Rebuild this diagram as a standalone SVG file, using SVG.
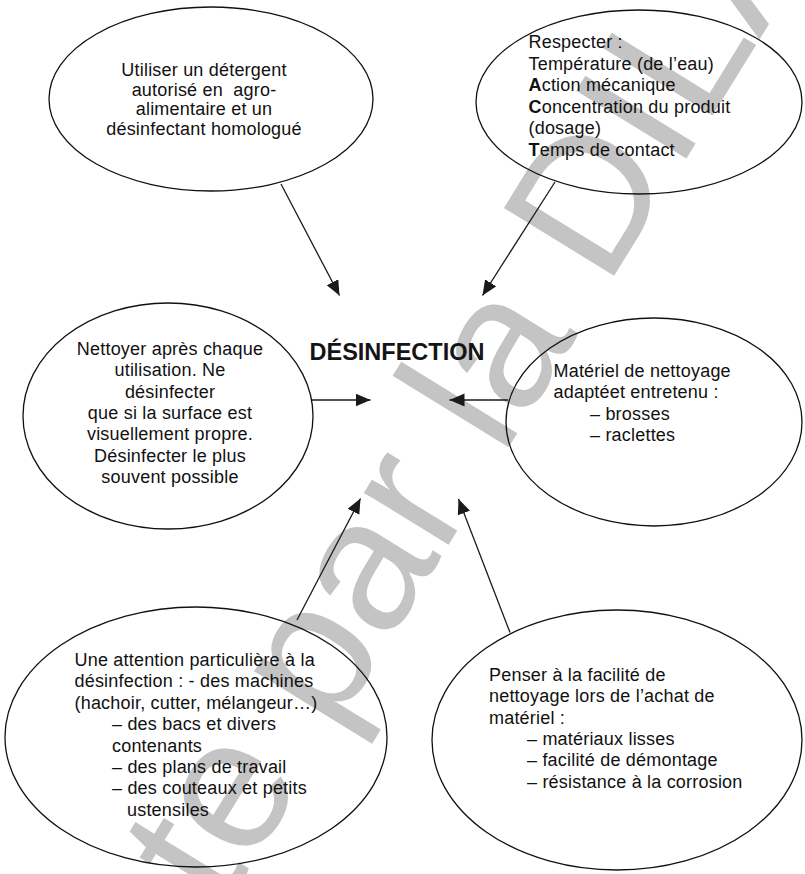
<svg xmlns="http://www.w3.org/2000/svg" width="805" height="874" viewBox="0 0 805 874">
<style>
.bg{fill:#ffffff}
.wm{font-family:"Liberation Sans",Arial,sans-serif;font-size:188px;fill:#c4c4c4}
.node ellipse{fill:none;stroke:#111;stroke-width:1.3}
.t{font-family:"Liberation Sans",Arial,sans-serif;font-size:18px;letter-spacing:0.2px;fill:#111}
.c{text-anchor:middle}
.title{font-family:"Liberation Sans",Arial,sans-serif;font-size:23.5px;font-weight:bold;fill:#141414;text-anchor:middle}
.conn line{stroke:#1a1a1a;stroke-width:1.3;marker-end:url(#ah)}
</style>
<defs>
<marker id="ah" markerUnits="userSpaceOnUse" markerWidth="16" markerHeight="14" refX="15" refY="6.5" orient="auto">
<path d="M0,0 L15,6.5 L0,13 z" fill="#1a1a1a"/>
</marker>
</defs>
<rect class="bg" x="0" y="0" width="805" height="874"/>
<g id="watermark">
<text class="wm" transform="translate(222.7,912) rotate(-58.4)" x="0" y="0">te par la DILA</text>
</g>
<g id="connectors" class="conn">
<line x1="281" y1="184" x2="339.5" y2="295.5"/>
<line x1="555" y1="182" x2="482.5" y2="295.5"/>
<line x1="312" y1="400" x2="370.5" y2="400"/>
<line x1="508" y1="400" x2="449.5" y2="400"/>
<line x1="297" y1="620" x2="360.5" y2="498.5"/>
<line x1="510" y1="632.5" x2="458.5" y2="499"/>
</g>
<g id="title">
<text class="title" x="397" y="360">DÉSINFECTION</text>
</g>
<g id="n1" class="node">
<ellipse cx="211" cy="99" rx="162" ry="92"/>
<text class="t c" x="204" y="76">Utiliser un détergent</text>
<text class="t c" x="204" y="95.5" xml:space="preserve">autorisé en  agro-</text>
<text class="t c" x="204" y="115">alimentaire et un</text>
<text class="t c" x="204" y="134.5">désinfectant homologué</text>
</g>
<g id="n2" class="node">
<ellipse cx="639" cy="102" rx="163" ry="92"/>
<text class="t" x="528.5" y="48">Respecter :</text>
<text class="t" x="528.5" y="70">Température (de l’eau)</text>
<text class="t" x="528.5" y="91"><tspan font-weight="bold">A</tspan>ction mécanique</text>
<text class="t" x="528.5" y="113"><tspan font-weight="bold">C</tspan>oncentration du produit</text>
<text class="t" x="528.5" y="134">(dosage)</text>
<text class="t" x="528.5" y="156"><tspan font-weight="bold">T</tspan>emps de contact</text>
</g>
<g id="n3" class="node">
<ellipse cx="168" cy="416" rx="145" ry="113"/>
<text class="t c" x="170" y="355">Nettoyer après chaque</text>
<text class="t c" x="170" y="376.3">utilisation. Ne</text>
<text class="t c" x="170" y="397.6">désinfecter</text>
<text class="t c" x="170" y="418.9">que si la surface est</text>
<text class="t c" x="170" y="440.2">visuellement propre.</text>
<text class="t c" x="170" y="461.5">Désinfecter le plus</text>
<text class="t c" x="170" y="482.8">souvent possible</text>
</g>
<g id="n4" class="node">
<ellipse cx="654" cy="422" rx="148" ry="104"/>
<text class="t" x="553.5" y="377">Matériel de nettoyage</text>
<text class="t" x="553.5" y="398">adaptéet entretenu :</text>
<text class="t" x="590" y="419.5">– brosses</text>
<text class="t" x="590" y="440.6">– raclettes</text>
</g>
<g id="n5" class="node">
<ellipse cx="196" cy="737" rx="191" ry="130"/>
<text class="t" x="74.5" y="666">Une attention particulière à la</text>
<text class="t" x="74.5" y="687.4">désinfection : - des machines</text>
<text class="t" x="74.5" y="708.8">(hachoir, cutter, mélangeur…)</text>
<text class="t" x="112" y="730.2">– des bacs et divers</text>
<text class="t" x="112" y="751.6">contenants</text>
<text class="t" x="112" y="773">– des plans de travail</text>
<text class="t" x="112" y="794.4">– des couteaux et petits</text>
<text class="t" x="127" y="815.8">ustensiles</text>
</g>
<g id="n6" class="node">
<ellipse cx="617" cy="740" rx="185" ry="130"/>
<text class="t" x="489" y="681">Penser à la facilité de</text>
<text class="t" x="489" y="702.3">nettoyage lors de l’achat de</text>
<text class="t" x="489" y="723.6">matériel :</text>
<text class="t" x="527" y="744.9">– matériaux lisses</text>
<text class="t" x="527" y="766.2">– facilité de démontage</text>
<text class="t" x="527" y="787.5">– résistance à la corrosion</text>
</g>
</svg>
